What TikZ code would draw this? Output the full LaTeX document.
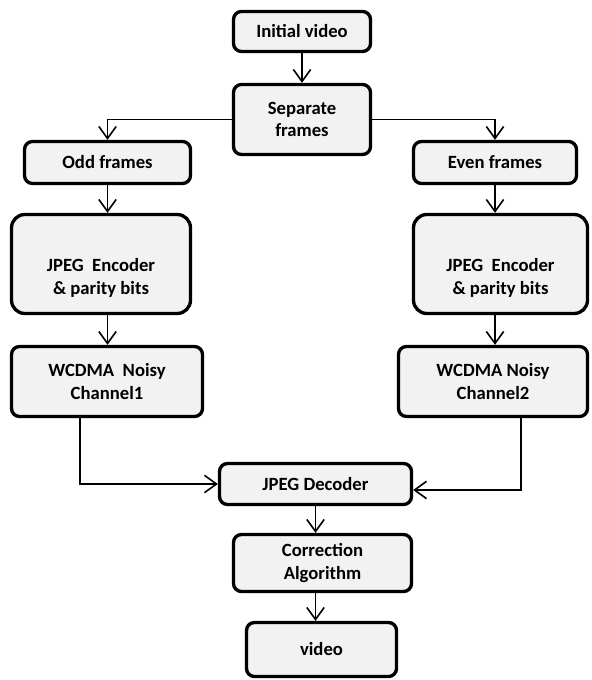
\documentclass[tikz,border=0pt]{standalone}
\usepackage{fontspec}
\setmainfont{Carlito}
\usepackage{tikz}
\usetikzlibrary{arrows.meta,positioning,calc}
\definecolor{boxgray}{RGB}{242,242,242}

\begin{document}
\begin{tikzpicture}[x=0.75pt, y=-0.75pt, >={Straight Barb[length=9pt,width=13pt]}, line width=1.2pt]
  \tikzstyle{block} = [rectangle, rounded corners=6pt, draw, line width=2.5pt, fill=boxgray, align=center, inner sep=0pt, font=\fontsize{14}{17}\selectfont\bfseries]
  \tikzstyle{bigblock} = [block, rounded corners=10pt]
  \useasboundingbox (0,0) rectangle (591,680);

  % top
  \node[block, minimum width=102.75pt, minimum height=30pt] (init) at (302,31.5) {Initial video};
  \node[block, minimum width=102.75pt, minimum height=52.5pt] (sep) at (302,119.5) {Separate\\frames};

  % odd branch
  \node[block, minimum width=124.5pt, minimum height=31.5pt] (odd) at (107.5,162.5) {Odd frames};
  \node[bigblock, minimum width=134.25pt, minimum height=74.25pt] (encL) at (101,264) {\rule{0pt}{31pt}JPEG\ \ Encoder\\\& parity bits};
  \node[block, minimum width=143.25pt, minimum height=52.5pt] (wcdL) at (107,381.5) {WCDMA\ \ Noisy\\Channel1};

  % even branch
  \node[block, minimum width=122.25pt, minimum height=31.5pt] (even) at (495,162.5) {Even frames};
  \node[bigblock, minimum width=130.5pt, minimum height=74.25pt] (encR) at (500.5,264) {\rule{0pt}{31pt}JPEG\ \ Encoder\\\& parity bits};
  \node[block, minimum width=141.75pt, minimum height=52.5pt] (wcdR) at (493,381.5) {WCDMA Noisy\\Channel2};

  % bottom
  \node[block, minimum width=144pt, minimum height=30.75pt] (dec) at (315.5,484) {JPEG Decoder};
  \node[block, minimum width=133.5pt, minimum height=42.75pt] (corr) at (322.5,563) {Correction\\Algorithm};
  \node[block, minimum width=112.5pt, minimum height=40.5pt] (video) at (321.5,649.5) {video};

  % arrows
  \draw[->] (init) -- (sep);
  \draw[->] (sep.west) -| (odd.north);
  \draw[->] (sep.east) -| (even.north);
  \draw[->] (odd) -- (odd |- encL.north);
  \draw[->] (encL.south -| odd) -- (wcdL.north -| odd);
  \draw[->] (even) -- (even |- encR.north);
  \draw[->] (encR.south -| even) -- (wcdR.north -| even);
  \draw[->] ($(wcdL.south)+(-27,0)$) |- (dec.west);
  \draw[->] ($(wcdR.south)+(28,0)$) |- ($(dec.east)+(0,6)$);
  \draw[->] (dec) -- (corr.north -| dec);
  \draw[->] (corr.south -| dec) -- (video.north -| dec);
\end{tikzpicture}
\end{document}
